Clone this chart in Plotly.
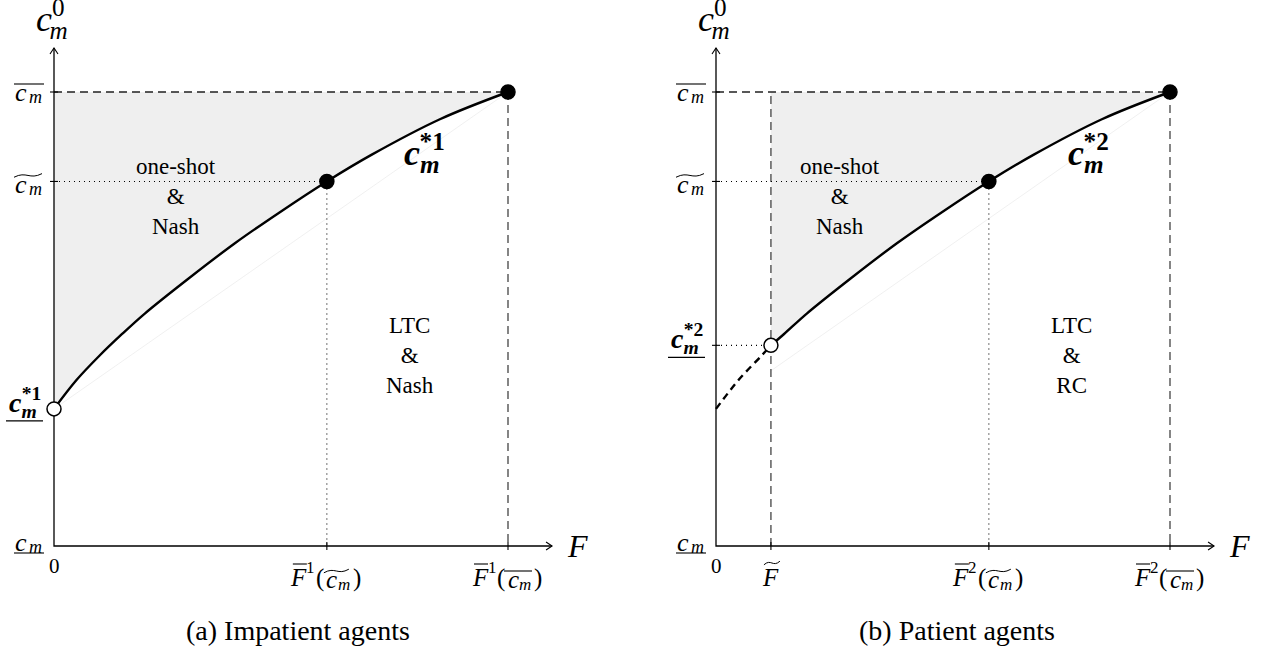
import plotly.graph_objects as go

# ---------------- data (axis units) ----------------
C_BAR = 10.0        # overline c_m
C_TILDE = 8.03      # widetilde c_m
C_STAR1 = 3.02      # underline c_m^{*1}
C_STAR2 = 4.42      # underline c_m^{*2}
F1_TILDE = 6.01     # overline F^1(widetilde c_m)
F1_BAR = 10.0       # overline F^1(overline c_m)
F2_TILDE = 6.01     # overline F^2(widetilde c_m)
F2_BAR = 10.0       # overline F^2(overline c_m)
F_TILDE = 1.21      # widetilde F
AXIS_END = 10.97

curve1_F = [0.0, 0.5, 1.0, 1.5, 2.0, 3.0, 4.0, 5.0, 6.01, 7.0, 8.5, 10.0]
curve1_c = [3.02, 3.66, 4.19, 4.67, 5.12, 5.92, 6.68, 7.37, 8.03, 8.62, 9.40, 10.0]
curve2_F = [1.21, 1.5, 2.0, 3.0, 4.0, 5.0, 6.01, 7.0, 8.5, 10.0]
curve2_c = [4.42, 4.67, 5.12, 5.92, 6.68, 7.37, 8.03, 8.62, 9.40, 10.0]
ext2_F = [0.0, 0.5, 1.0, 1.21]
ext2_c = [3.02, 3.66, 4.19, 4.42]
faint1_F = [0.0, 10.0]
faint1_c = [3.02, 10.0]
faint2_F = [1.21, 10.0]
faint2_c = [3.86, 10.0]

LABEL_POS = [(8.17, 8.72), (8.2, 8.72)]
REGION_TOP_POS = [(2.69, 7.69), (2.73, 7.69)]
REGION_LOW_POS = [(7.84, 4.2), (7.84, 4.2)]
REGION_TOP_TEXT = ["one-shot<br>&amp;<br>Nash", "one-shot<br>&amp;<br>Nash"]
REGION_LOW_TEXT = ["LTC<br>&amp;<br>Nash", "LTC<br>&amp;<br>RC"]
CAPTIONS = ["(a) Impatient agents", "(b) Patient agents"]
CAPTION_POS = [(5.37, -1.87), (5.31, -1.87)]

# ---------------- layout geometry ----------------
W, H = 1268, 653
S = 45.4                 # pixels per axis unit
ORIG_X = [54, 716 - 634]  # origin x in each panel (px from panel left)
ORIG_Y = 546
SERIF = "Liberation Serif"

annotations = []
shapes = []
traces = []


def ax(p):
    return ('x', 'y') if p == 0 else ('x2', 'y2')


def txt(p, x, y, text, dx=0, dy=0, size=20, xanchor='center'):
    xr, yr = ax(p)
    annotations.append(dict(x=x, y=y, xref=xr, yref=yr, text=text, showarrow=False,
                            xshift=dx, yshift=-dy, xanchor=xanchor, yanchor='middle',
                            font=dict(family=SERIF, size=size, color='black')))


def bar(p, x, y, dx0, dx1, dy, w=1.1):
    xr, yr = ax(p)
    shapes.append(dict(type='line', xref=xr, yref=yr, x0=x + dx0 / S, x1=x + dx1 / S,
                       y0=y - dy / S, y1=y - dy / S, line=dict(color='black', width=w)))


def tilde(p, x, y, dx0, dx1, dy, h=1.8, w=1.0):
    xr, yr = ax(p)
    xa, xb = x + dx0 / S, x + dx1 / S
    yc, hh = y - dy / S, h / S
    path = (f"M {xa},{yc - hh} C {xa + (xb - xa) * 0.45},{yc + 2.6 * hh} "
            f"{xa + (xb - xa) * 0.55},{yc - 2.6 * hh} {xb},{yc + hh}")
    shapes.append(dict(type='path', xref=xr, yref=yr, path=path,
                       line=dict(color='black', width=w)))


def line(p, xs, ys, color='black', width=1.2, dash='solid', shape='linear'):
    xr, yr = ax(p)
    traces.append(go.Scatter(x=xs, y=ys, xaxis=xr, yaxis=yr, mode='lines',
                             line=dict(color=color, width=width, dash=dash, shape=shape),
                             hoverinfo='skip'))


def markers(p, xs, ys, filled=True):
    xr, yr = ax(p)
    traces.append(go.Scatter(x=xs, y=ys, xaxis=xr, yaxis=yr, mode='markers',
                             marker=dict(size=14, color='black' if filled else 'white',
                                         line=dict(color='black', width=1.5)),
                             hoverinfo='skip'))


def stacked(sup, back, bold=False):
    # c with the subscript m and a superscript stacked above it
    b0, b1 = ("<b>", "</b>") if bold else ("", "")
    return (f"{b0}<i>c</i>{b1}"
            f"<sub>{b0}<span style='letter-spacing:-{back}px'><i>m</i></span>{b1}</sub>"
            f"<sup>{b0}{sup}{b1}</sup>")


def cm_axis_label(p, yval, deco, base):
    txt(p, 0, yval, "<i>c</i>", dx=-33, dy=base - 2, size=26)
    txt(p, 0, yval, "<i>m</i>", dx=-19, dy=base + 3, size=18)
    if deco == 'bar':
        bar(p, 0, yval, -40, -10, base - 10)
    elif deco == 'tilde':
        tilde(p, 0, yval, -40, -12, base - 11)
    else:
        bar(p, 0, yval, -40, -10, base + 9)


def cstar_axis_label(p, yval, sup):
    t = stacked("*" + sup, 15, bold=True)
    txt(p, 0, yval, t, dx=-11, dy=-6.5, size=28, xanchor='right')
    bar(p, 0, yval, -48, -11, 12, w=1.2)


def fbar_label(p, xval, num, deco):
    txt(p, xval, 0, "<i>F</i>", dx=-28, dy=31, size=25)
    bar(p, xval, 0, -34, -20, 18)
    txt(p, xval, 0, num, dx=-16, dy=21, size=17)
    txt(p, xval, 0, "(", dx=-7, dy=32, size=25)
    txt(p, xval, 0, "<i>c</i>", dx=5, dy=33, size=25)
    txt(p, xval, 0, "<i>m</i>", dx=17, dy=38, size=17)
    txt(p, xval, 0, ")", dx=30, dy=32, size=25)
    if deco == 'bar':
        bar(p, xval, 0, -4, 24, 25)
    else:
        tilde(p, xval, 0, -3, 22, 25)


def curve_label(p, pos, sup):
    x, y = pos
    t = stacked("*" + sup, 20, bold=True)
    txt(p, x, y, t, size=36)


curves = [(curve1_F, curve1_c), (curve2_F, curve2_c)]
fbars = [(F1_TILDE, F1_BAR), (F2_TILDE, F2_BAR)]

for p in (0, 1):
    cF, cc = curves[p]
    fT, fB = fbars[p]
    # shaded region
    x0 = 0.0 if p == 0 else F_TILDE
    xr, yr = ax(p)
    traces.append(go.Scatter(x=[x0] + cF[::-1], y=[C_BAR] + cc[::-1], xaxis=xr, yaxis=yr,
                             mode='lines', fill='toself', fillcolor='#efefef',
                             line=dict(width=0), hoverinfo='skip'))
    # faint chord
    if p == 0:
        line(p, faint1_F, faint1_c, color='#ececec', width=0.8)
    else:
        line(p, faint2_F, faint2_c, color='#ececec', width=0.8)
    # dashed guides
    line(p, [0, fB], [C_BAR, C_BAR], color='#222222', width=1.3, dash='8px,5px')
    line(p, [fB, fB], [C_BAR, 0], color='#444444', width=1.3, dash='8px,5px')
    if p == 1:
        line(p, [F_TILDE, F_TILDE], [0, C_BAR], color='#444444', width=1.3, dash='8px,5px')
    # dotted guides
    line(p, [0, fT, fT], [C_TILDE, C_TILDE, 0], color='black', width=1.1, dash='1px,4px')
    if p == 1:
        line(p, [0, F_TILDE], [C_STAR2, C_STAR2], color='black', width=1.1, dash='1px,4px')
        line(p, ext2_F, ext2_c, color='black', width=2.4, dash='7px,5px', shape='spline')
    # axes
    line(p, [0, 0, AXIS_END], [AXIS_END, 0, 0], color='black', width=1.3)
    a, b = 6 / S, 4 / S
    line(p, [-b, 0, b], [AXIS_END - a, AXIS_END, AXIS_END - a], color='black', width=1.1)
    line(p, [AXIS_END - a, AXIS_END, AXIS_END - a], [-b, 0, b], color='black', width=1.1)
    # ticks
    t = 4 / S
    yt = [C_BAR, C_TILDE] + ([C_STAR2] if p == 1 else [])
    xs, ys = [], []
    for v in yt:
        xs += [-t, t, None]
        ys += [v, v, None]
    for v in [fT, fB] + ([F_TILDE] if p == 1 else []):
        xs += [v, v, None]
        ys += [-t, t, None]
    line(p, xs, ys, color='black', width=1.1)
    # curve
    line(p, cF, cc, color='black', width=2.4, shape='spline')
    # points
    markers(p, [fT, fB], [C_TILDE, C_BAR], filled=True)
    if p == 0:
        markers(p, [0.0], [C_STAR1], filled=False)
    else:
        markers(p, [F_TILDE], [C_STAR2], filled=False)

    # ---- text ----
    top = (f"<i>c</i><sup><span style='letter-spacing:-15px'>0</span></sup>"
           f"<sub><i>m</i></sub>")
    txt(p, 0, AXIS_END, top, dx=-2, dy=-26, size=36)
    txt(p, AXIS_END, 0, "<i>F</i>", dx=25, dy=0, size=32)
    txt(p, 0, 0, "0", dx=0, dy=20, size=21)
    cm_axis_label(p, C_BAR, 'bar', 2)
    cm_axis_label(p, C_TILDE, 'tilde', 5)
    cm_axis_label(p, 0, 'under', -2)
    num = "1" if p == 0 else "2"
    fbar_label(p, fT, num, 'tilde')
    fbar_label(p, fB, num, 'bar')
    if p == 0:
        cstar_axis_label(p, C_STAR1, "1")
    else:
        cstar_axis_label(p, C_STAR2, "2")
        txt(p, F_TILDE, 0, "<i>F</i>", dx=0, dy=31, size=25)
        tilde(p, F_TILDE, 0, -7, 9, 17)
    curve_label(p, LABEL_POS[p], num)
    txt(p, *REGION_TOP_POS[p], REGION_TOP_TEXT[p], size=23)
    txt(p, *REGION_LOW_POS[p], REGION_LOW_TEXT[p], size=23)
    txt(p, *CAPTION_POS[p], CAPTIONS[p], size=28)

fig = go.Figure(traces)
half = W / 2
axis_common = dict(visible=False, fixedrange=True)
fig.update_layout(
    width=W, height=H, margin=dict(l=0, r=0, t=0, b=0),
    paper_bgcolor='white', plot_bgcolor='white', showlegend=False,
    xaxis=dict(domain=[0, 0.5], range=[-ORIG_X[0] / S, (half - ORIG_X[0]) / S], **axis_common),
    yaxis=dict(domain=[0, 1], range=[-(H - ORIG_Y) / S, ORIG_Y / S], **axis_common),
    xaxis2=dict(domain=[0.5, 1], range=[-ORIG_X[1] / S, (half - ORIG_X[1]) / S], **axis_common),
    yaxis2=dict(domain=[0, 1], range=[-(H - ORIG_Y) / S, ORIG_Y / S], anchor='x2', **axis_common),
    annotations=annotations, shapes=shapes,
)
fig.write_html("out.html", config={'displayModeBar': False},
               post_script="document.body.style.margin='0';document.body.style.overflow='hidden';")
